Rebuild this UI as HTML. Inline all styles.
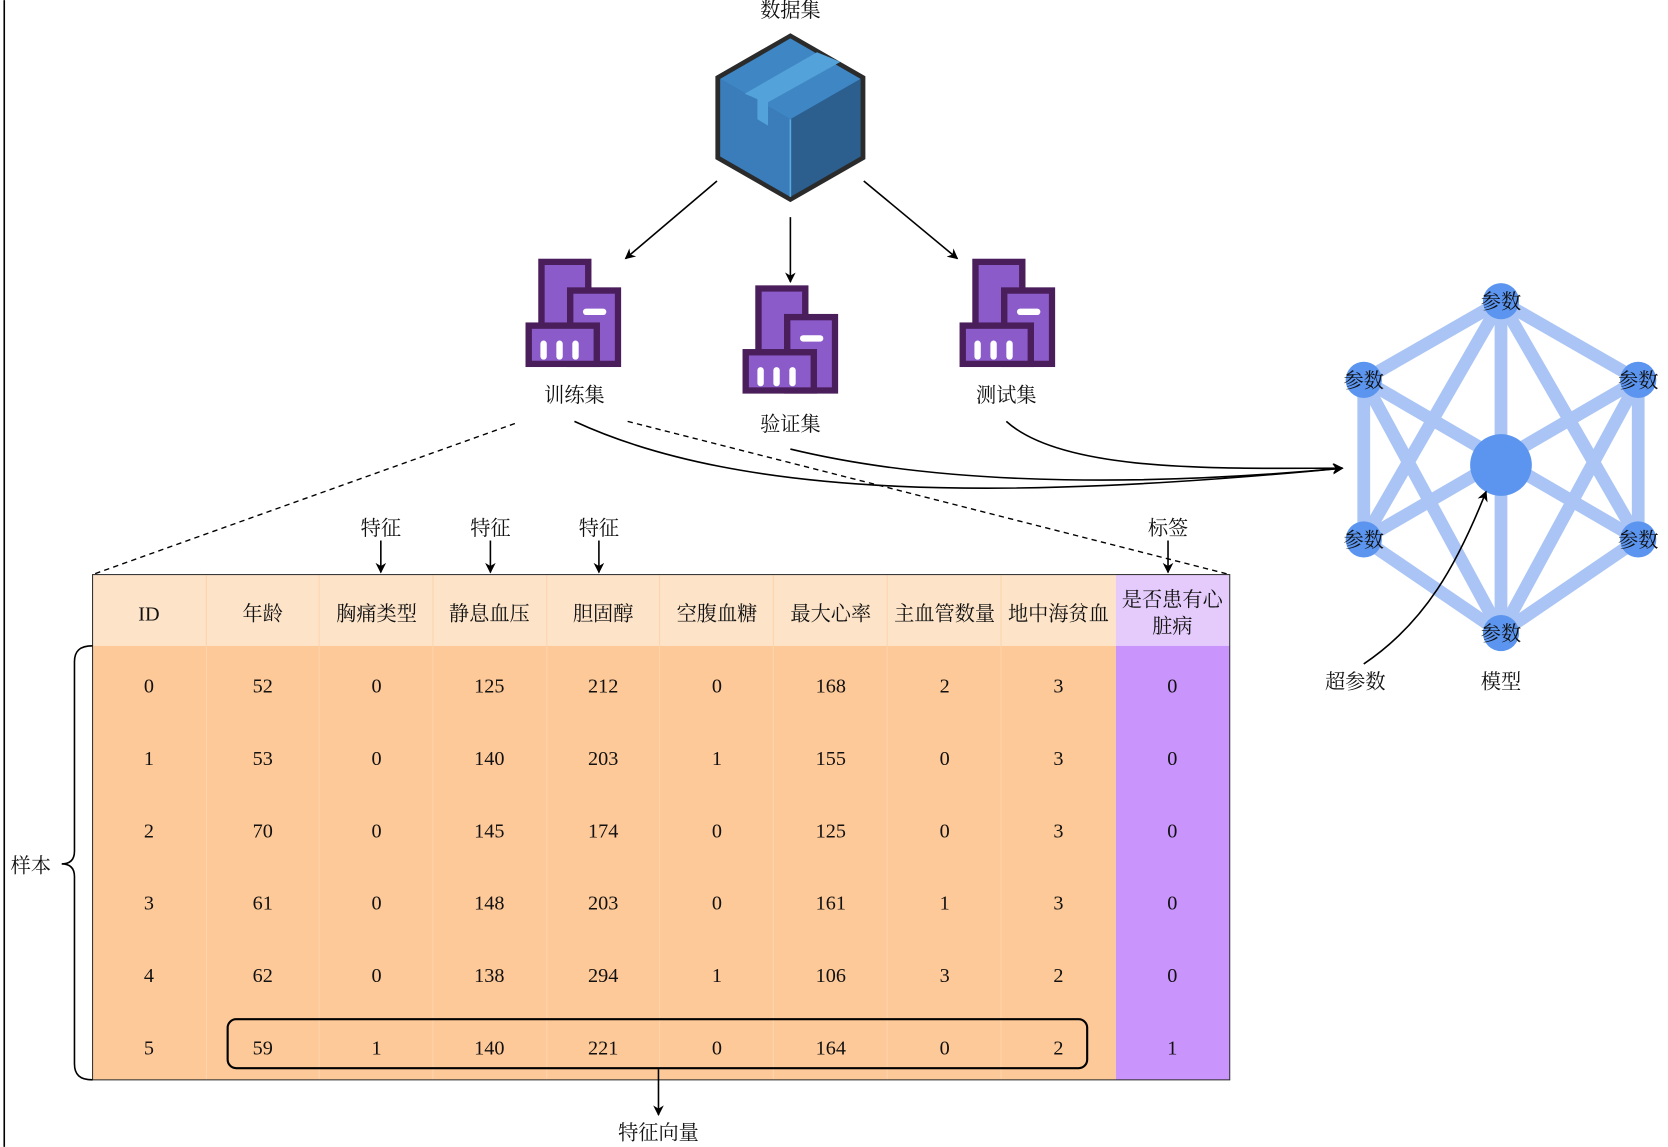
<!DOCTYPE html>
<html><head><meta charset="utf-8"><style>
html,body{margin:0;padding:0;background:#fff}
svg{display:block}
text{font-family:"Liberation Serif","Noto Serif CJK SC","Noto Sans CJK SC",serif;font-size:19px;fill:#111;text-anchor:middle}
</style></head><body>
<svg width="1668" height="1147" viewBox="0 0 1568 1078" xmlns="http://www.w3.org/2000/svg">
<defs>
<marker id="ar" markerWidth="10" markerHeight="10" refX="9" refY="5" orient="auto" markerUnits="userSpaceOnUse"><path d="M0,0 L10,5 L0,10 L3,5 z" fill="#000"/></marker>
<symbol id="bld" viewBox="0 0 90 102">
<rect x="15" y="3" width="44" height="70" fill="#8b5bc9" stroke="#4a1e5a" stroke-width="6"/>
<rect x="42" y="30" width="45" height="69" fill="#8b5bc9" stroke="#4a1e5a" stroke-width="6"/>
<rect x="3" y="63" width="64" height="36" fill="#8b5bc9" stroke="#4a1e5a" stroke-width="6"/>
<rect x="54" y="47" width="22" height="6" rx="3" fill="#fff"/>
<rect x="14" y="77" width="6" height="18" rx="3" fill="#fff"/>
<rect x="29" y="77" width="6" height="18" rx="3" fill="#fff"/>
<rect x="44" y="77" width="6" height="18" rx="3" fill="#fff"/>
</symbol>
</defs>
<line x1="4" y1="0" x2="4" y2="1078" stroke="#000" stroke-width="1.5"/>
<!-- cube -->
<text x="743" y="16">数据集</text>
<polygon points="743,34 811,73 811,148 743,187 675,148 675,73" fill="#2f6aa5" stroke="#2b2b2b" stroke-width="5"/>
<polygon points="743,36 809,74 743,112 677,74" fill="#3e86c4"/>
<polygon points="677,74 743,112 743,185 677,147" fill="#3b7dbb"/>
<polygon points="743,112 809,74 809,147 743,185" fill="#2c5f8e"/>
<polygon points="700,88 768,49 790,58 722,96 722,118 712,112 712,93" fill="#54a2da"/>
<line x1="743" y1="112" x2="743" y2="185" stroke="#5aaae0" stroke-width="1.5"/>
<!-- arrows from cube -->
<line x1="674" y1="170" x2="588" y2="243" stroke="#000" stroke-width="1.5" marker-end="url(#ar)"/>
<line x1="743" y1="204" x2="743" y2="265" stroke="#000" stroke-width="1.5" marker-end="url(#ar)"/>
<line x1="812" y1="170" x2="900" y2="243" stroke="#000" stroke-width="1.5" marker-end="url(#ar)"/>
<use href="#bld" x="494" y="243" width="90" height="102"/>
<use href="#bld" x="698" y="268" width="90" height="102"/>
<use href="#bld" x="902" y="243" width="90" height="102"/>
<text x="540" y="378">训练集</text>
<text x="743" y="405">验证集</text>
<text x="946" y="378">测试集</text>
<!-- network -->
<g stroke="#a9c4f5" stroke-width="12" stroke-linecap="round">
<line x1="1411" y1="283" x2="1282" y2="357"/><line x1="1411" y1="283" x2="1540" y2="357"/>
<line x1="1411" y1="283" x2="1282" y2="507"/><line x1="1411" y1="283" x2="1540" y2="507"/>
<line x1="1411" y1="283" x2="1411" y2="595"/>
<line x1="1282" y1="357" x2="1282" y2="507"/><line x1="1540" y1="357" x2="1540" y2="507"/>
<line x1="1282" y1="357" x2="1540" y2="507"/><line x1="1540" y1="357" x2="1282" y2="507"/>
<line x1="1282" y1="357" x2="1411" y2="595"/><line x1="1540" y1="357" x2="1411" y2="595"/>
<line x1="1282" y1="507" x2="1411" y2="595"/><line x1="1540" y1="507" x2="1411" y2="595"/>
</g>
<g fill="#5b95ef">
<circle cx="1411" cy="437" r="29"/>
<circle cx="1411" cy="283" r="17"/><circle cx="1282" cy="357" r="17"/><circle cx="1540" cy="357" r="17"/>
<circle cx="1282" cy="507" r="17"/><circle cx="1540" cy="507" r="17"/><circle cx="1411" cy="595" r="17"/>
</g>
<text x="1411" y="290">参数</text><text x="1282" y="364">参数</text><text x="1540" y="364">参数</text>
<text x="1282" y="514">参数</text><text x="1540" y="514">参数</text><text x="1411" y="602">参数</text>
<text x="1274" y="647">超参数</text><text x="1411" y="647">模型</text>
<path d="M1282,624 C1340,585 1370,530 1397,462" fill="none" stroke="#000" stroke-width="1.5" marker-end="url(#ar)"/>
<!-- curves to model -->
<g fill="none" stroke="#000" stroke-width="1.5">
<path d="M540,396 C700,470 950,470 1262,440" marker-end="url(#ar)"/>
<path d="M743,422 C900,460 1100,455 1262,440" marker-end="url(#ar)"/>
<path d="M946,396 C1000,445 1150,440 1262,440" marker-end="url(#ar)"/>
</g>
<!-- dashed -->
<g stroke="#000" stroke-width="1.3" stroke-dasharray="5,4">
<line x1="484" y1="398" x2="87" y2="540"/>
<line x1="590" y1="396" x2="1156" y2="540"/>
</g>
<!-- table -->
<rect x="87" y="540" width="962" height="67" fill="#fde3c8"/>
<rect x="1049" y="540" width="107" height="67" fill="#e4cbfb"/>
<rect x="87" y="607" width="962" height="408" fill="#fec998"/>
<rect x="1049" y="607" width="107" height="408" fill="#c994fb"/>
<g stroke="#fdd4ad" stroke-width="1">
<line x1="194" y1="540" x2="194" y2="1015"/><line x1="300" y1="540" x2="300" y2="1015"/><line x1="407" y1="540" x2="407" y2="1015"/><line x1="514" y1="540" x2="514" y2="1015"/><line x1="620" y1="540" x2="620" y2="1015"/><line x1="727" y1="540" x2="727" y2="1015"/><line x1="834" y1="540" x2="834" y2="1015"/><line x1="941" y1="540" x2="941" y2="1015"/>
</g>
<rect x="87" y="540" width="1069" height="475" fill="none" stroke="#333" stroke-width="1"/>
<g>
<text x="140" y="583">ID</text><text x="247" y="583">年龄</text><text x="354" y="583">胸痛类型</text><text x="460" y="583">静息血压</text><text x="567" y="583">胆固醇</text><text x="674" y="583">空腹血糖</text><text x="781" y="583">最大心率</text><text x="888" y="583">主血管数量</text><text x="995" y="583">地中海贫血</text>
<text x="1102" y="570">是否患有心</text><text x="1102" y="595">脏病</text>
</g>
<g id="rows"></g>
<text x="140" y="651">0</text><text x="247" y="651">52</text><text x="354" y="651">0</text><text x="460" y="651">125</text><text x="567" y="651">212</text><text x="674" y="651">0</text><text x="781" y="651">168</text><text x="888" y="651">2</text><text x="995" y="651">3</text><text x="1102" y="651">0</text>
<text x="140" y="719">1</text><text x="247" y="719">53</text><text x="354" y="719">0</text><text x="460" y="719">140</text><text x="567" y="719">203</text><text x="674" y="719">1</text><text x="781" y="719">155</text><text x="888" y="719">0</text><text x="995" y="719">3</text><text x="1102" y="719">0</text>
<text x="140" y="787">2</text><text x="247" y="787">70</text><text x="354" y="787">0</text><text x="460" y="787">145</text><text x="567" y="787">174</text><text x="674" y="787">0</text><text x="781" y="787">125</text><text x="888" y="787">0</text><text x="995" y="787">3</text><text x="1102" y="787">0</text>
<text x="140" y="855">3</text><text x="247" y="855">61</text><text x="354" y="855">0</text><text x="460" y="855">148</text><text x="567" y="855">203</text><text x="674" y="855">0</text><text x="781" y="855">161</text><text x="888" y="855">1</text><text x="995" y="855">3</text><text x="1102" y="855">0</text>
<text x="140" y="923">4</text><text x="247" y="923">62</text><text x="354" y="923">0</text><text x="460" y="923">138</text><text x="567" y="923">294</text><text x="674" y="923">1</text><text x="781" y="923">106</text><text x="888" y="923">3</text><text x="995" y="923">2</text><text x="1102" y="923">0</text>
<text x="140" y="991">5</text><text x="247" y="991">59</text><text x="354" y="991">1</text><text x="460" y="991">140</text><text x="567" y="991">221</text><text x="674" y="991">0</text><text x="781" y="991">164</text><text x="888" y="991">0</text><text x="995" y="991">2</text><text x="1102" y="991">1</text>
<rect x="214" y="958" width="808" height="46" rx="8" fill="none" stroke="#000" stroke-width="2"/>
<line x1="619" y1="1005" x2="619" y2="1048" stroke="#000" stroke-width="1.5" marker-end="url(#ar)"/>
<text x="619" y="1071">特征向量</text>
<!-- feature arrows -->
<text x="358" y="503">特征</text><text x="461" y="503">特征</text><text x="563" y="503">特征</text><text x="1098" y="503">标签</text>
<g stroke="#000" stroke-width="1.5">
<line x1="358" y1="508" x2="358" y2="538" marker-end="url(#ar)"/>
<line x1="461" y1="508" x2="461" y2="538" marker-end="url(#ar)"/>
<line x1="563" y1="508" x2="563" y2="538" marker-end="url(#ar)"/>
<line x1="1098" y1="508" x2="1098" y2="538" marker-end="url(#ar)"/>
</g>
<!-- brace -->
<path d="M87,607 C75,607 70,612 70,622 L70,800 C70,808 66,812 58,812 C66,812 70,816 70,824 L70,1000 C70,1010 75,1015 87,1015" fill="none" stroke="#000" stroke-width="1.5"/>
<text x="29" y="820">样本</text>
</svg>
</body></html>
